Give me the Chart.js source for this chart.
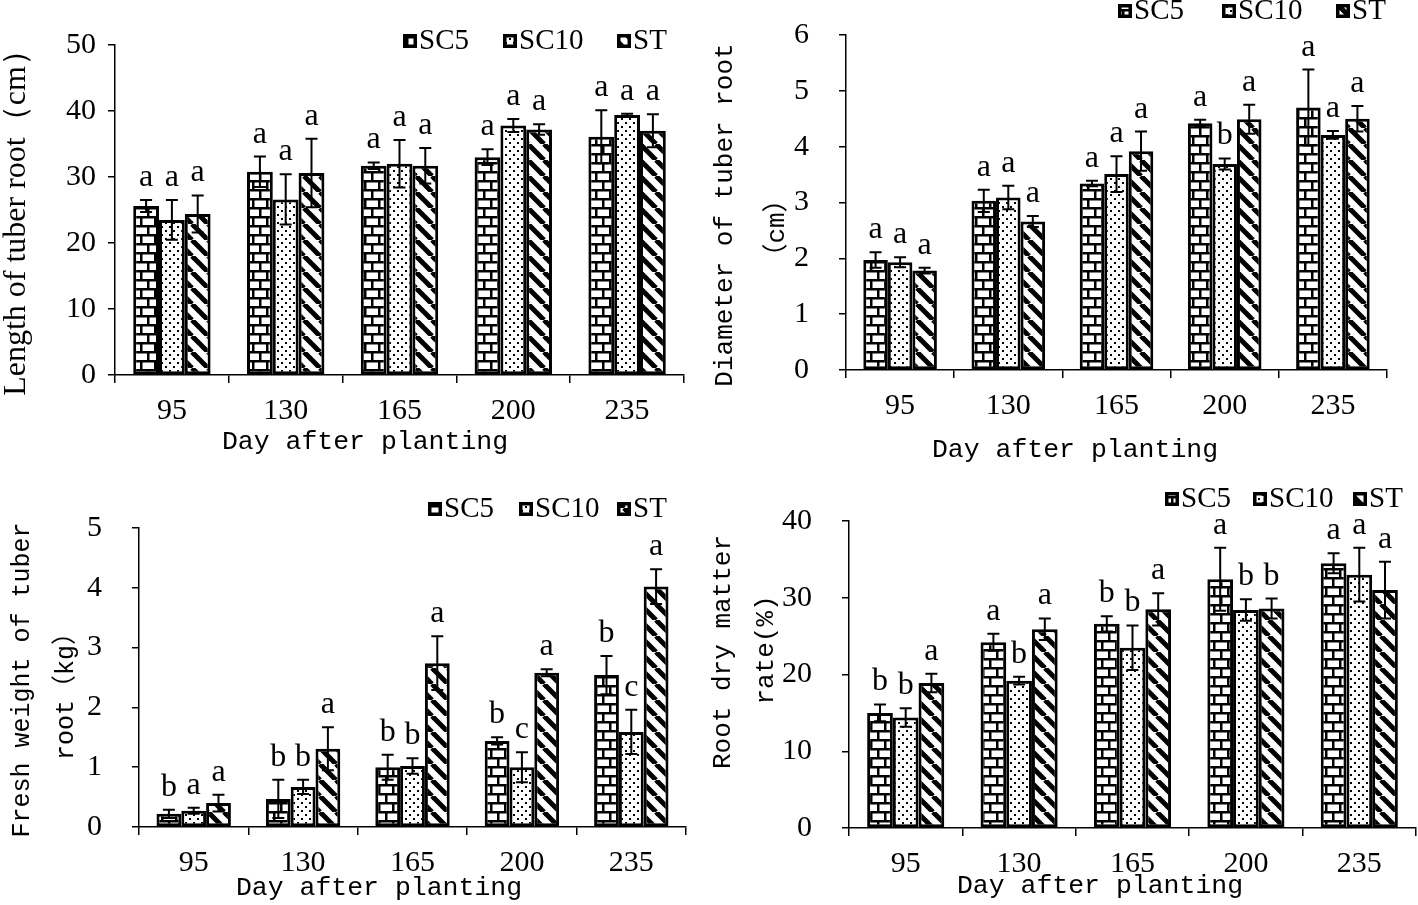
<!DOCTYPE html>
<html><head><meta charset="utf-8">
<script src="https://cdn.jsdelivr.net/npm/chart.js@4.4.1/dist/chart.umd.min.js"></script>
<style>
html,body{margin:0;padding:0;background:#fff;}
body{width:1418px;height:905px;position:relative;overflow:hidden;}
canvas{position:absolute;}
</style></head><body>
<canvas id="c1" width="709" height="460" style="left:0;top:0"></canvas>
<canvas id="c2" width="709" height="478" style="left:709px;top:0"></canvas>
<canvas id="c3" width="709" height="445" style="left:0;top:460px"></canvas>
<canvas id="c4" width="709" height="445" style="left:709px;top:460px"></canvas>
<script>
// ---------------- DATA ----------------
const categories = ['95', '130', '165', '200', '235'];
const seriesNames = ['SC5', 'SC10', 'ST'];
const xTitle = 'Day after planting';

// Length of tuber root (cm)
const lengthSC5 = [25.6, 30.8, 31.7, 33.0, 36.1];
const lengthSC10 = [23.5, 26.6, 32.0, 37.8, 39.4];
const lengthST = [24.4, 30.6, 31.7, 37.2, 37.0];
const lengthSC5Err = [0.9, 2.3, 0.5, 1.2, 4.0];
const lengthSC10Err = [3.0, 3.8, 3.6, 1.0, 0.2];
const lengthSTErr = [2.8, 5.2, 2.7, 0.8, 2.5];
const lengthSC5Sig = ['a', 'a', 'a', 'a', 'a'];
const lengthSC10Sig = ['a', 'a', 'a', 'a', 'a'];
const lengthSTSig = ['a', 'a', 'a', 'a', 'a'];
const lengthTicks = [0, 10, 20, 30, 40, 50];

// Diameter of tuber root (cm)
const diamSC5 = [1.97, 3.03, 3.34, 4.42, 4.70];
const diamSC10 = [1.93, 3.09, 3.51, 3.69, 4.21];
const diamST = [1.78, 2.66, 3.92, 4.49, 4.50];
const diamSC5Err = [0.14, 0.20, 0.05, 0.06, 0.68];
const diamSC10Err = [0.09, 0.21, 0.32, 0.10, 0.07];
const diamSTErr = [0.05, 0.10, 0.35, 0.26, 0.23];
const diamSC5Sig = ['a', 'a', 'a', 'a', 'a'];
const diamSC10Sig = ['a', 'a', 'a', 'b', 'a'];
const diamSTSig = ['a', 'a', 'a', 'a', 'a'];
const diamTicks = [0, 1, 2, 3, 4, 5, 6];

// Fresh weight of tuber root (kg)
const freshSC5 = [0.22, 0.47, 1.00, 1.44, 2.54];
const freshSC10 = [0.27, 0.67, 1.02, 1.00, 1.59];
const freshST = [0.40, 1.31, 2.74, 2.58, 4.02];
const freshSC5Err = [0.07, 0.32, 0.21, 0.06, 0.32];
const freshSC10Err = [0.05, 0.12, 0.13, 0.25, 0.37];
const freshSTErr = [0.14, 0.36, 0.45, 0.06, 0.29];
const freshSC5Sig = ['b', 'b', 'b', 'b', 'b'];
const freshSC10Sig = ['a', 'b', 'b', 'c', 'c'];
const freshSTSig = ['a', 'a', 'a', 'a', 'a'];
const freshTicks = [0, 1, 2, 3, 4, 5];

// Root dry matter rate (%)
const drySC5 = [15.0, 24.2, 26.6, 32.4, 34.5];
const drySC10 = [14.4, 19.2, 23.5, 28.4, 33.0];
const dryST = [18.9, 25.9, 28.5, 28.6, 31.0];
const drySC5Err = [1.1, 1.1, 1.0, 4.1, 1.3];
const drySC10Err = [1.2, 0.5, 2.9, 1.4, 3.5];
const drySTErr = [1.2, 1.4, 2.1, 1.3, 3.7];
const drySC5Sig = ['b', 'a', 'b', 'a', 'a'];
const drySC10Sig = ['b', 'b', 'b', 'b', 'a'];
const drySTSig = ['a', 'a', 'a', 'b', 'a'];
const dryTicks = [0, 10, 20, 30, 40];

// ---------------- PATTERNS ----------------
function tile(w, h, draw) {
  const c = document.createElement('canvas'); c.width = w; c.height = h;
  const g = c.getContext('2d');
  g.fillStyle = '#fff'; g.fillRect(0, 0, w, h);
  g.fillStyle = '#000'; g.strokeStyle = '#000';
  draw(g);
  return g.createPattern(c, 'repeat');
}
const brick = tile(14, 18, g => {
  g.fillRect(0, 0, 14, 2.5); g.fillRect(0, 9, 14, 2.5);
  g.fillRect(0, 0, 2.5, 9); g.fillRect(7, 9, 2.5, 9);
});
const dots = tile(8, 8, g => {
  g.fillRect(1, 2, 2, 2); g.fillRect(5, 6, 2, 2);
});
const stripes = tile(16, 16, g => {
  g.lineWidth = 5;
  for (const k of [-16, 0, 16]) { g.beginPath(); g.moveTo(k, 0); g.lineTo(k + 16, 16); g.stroke(); }
});
const patterns = [brick, dots, stripes];

const SERIF = '"Liberation Serif", "Times New Roman", serif';
const MONO = '"Liberation Mono", "Noto Sans CJK SC", monospace';

// ---------------- PLUGINS ----------------
function errPlugin() {
  return {
    id: 'errs',
    afterDatasetsDraw(chart) {
      const ctx = chart.ctx, ys = chart.scales.y;
      chart.data.datasets.forEach((ds, i) => {
        chart.getDatasetMeta(i).data.forEach((bar, j) => {
          const v = ds.data[j], e = ds.errors[j];
          const yt = ys.getPixelForValue(v + e), yb = ys.getPixelForValue(v - e);
          ctx.save();
          ctx.strokeStyle = '#000'; ctx.lineWidth = 2;
          ctx.beginPath();
          ctx.moveTo(bar.x, yt); ctx.lineTo(bar.x, yb);
          ctx.moveTo(bar.x - 6, yt); ctx.lineTo(bar.x + 6, yt);
          ctx.moveTo(bar.x - 6, yb); ctx.lineTo(bar.x + 6, yb);
          ctx.stroke();
          ctx.font = '32px ' + SERIF; ctx.fillStyle = '#000';
          ctx.textAlign = 'center'; ctx.textBaseline = 'alphabetic';
          ctx.fillText(ds.sig[j], bar.x, yt - 14);
          ctx.restore();
        });
      });
    }
  };
}
function legendPlugin(xs, y) {
  return {
    id: 'boxLegend',
    afterDraw(chart) {
      const ctx = chart.ctx;
      chart.data.datasets.forEach((ds, i) => {
        const x = xs[i];
        ctx.save();
        ctx.fillStyle = ds.backgroundColor; ctx.fillRect(x, y - 6, 14, 14);
        ctx.strokeStyle = '#000'; ctx.lineWidth = 3.5; ctx.strokeRect(x + 1.75, y - 4.25, 10.5, 10.5);
        ctx.font = '29px ' + SERIF; ctx.fillStyle = '#000';
        ctx.textAlign = 'left'; ctx.textBaseline = 'middle';
        ctx.fillText(ds.label, x + 16, y + 1);
        ctx.restore();
      });
    }
  };
}
function titlePlugin(items) {
  return {
    id: 'titles',
    afterDraw(chart) {
      const ctx = chart.ctx;
      items.forEach(t => {
        ctx.save();
        ctx.translate(t.x, t.y);
        if (t.rot) ctx.rotate(-Math.PI / 2);
        ctx.font = t.font; ctx.fillStyle = '#000';
        ctx.textAlign = 'center'; ctx.textBaseline = 'middle';
        ctx.fillText(t.text, 0, 0);
        ctx.restore();
      });
    }
  };
}

function makePanel(id, cfg) {
  const canvas = document.getElementById(id);
  const W = canvas.width, H = canvas.height;
  const datasets = seriesNames.map((n, i) => ({
    label: n, data: cfg.values[i], errors: cfg.errors[i], sig: cfg.sig[i],
    backgroundColor: patterns[i], borderColor: '#000', borderWidth: 3, borderSkipped: false
  }));
  new Chart(canvas, {
    type: 'bar',
    data: { labels: categories, datasets },
    options: {
      responsive: false, animation: false, devicePixelRatio: 1,
      layout: { padding: { left: 0, right: W - cfg.area.right, top: cfg.area.top, bottom: 0 } },
      datasets: { bar: { categoryPercentage: 0.68, barPercentage: 1 } },
      plugins: { legend: { display: false }, tooltip: { enabled: false } },
      scales: {
        x: {
          grid: { drawOnChartArea: false, drawTicks: true, tickLength: 8, color: '#000', lineWidth: 1.5, offset: true },
          border: { display: true, color: '#000', width: 1.5 },
          ticks: { color: '#000', font: { family: SERIF, size: 30 }, padding: 10, maxRotation: 0 },
          afterFit(s) { s.height = H - cfg.area.bottom; s.paddingLeft = 0; s.paddingRight = 0; }
        },
        y: {
          min: cfg.ticks[0], max: cfg.ticks[cfg.ticks.length - 1],
          afterBuildTicks(s) { s.ticks = cfg.ticks.map(v => ({ value: v })); },
          grid: { drawOnChartArea: false, drawTicks: true, tickLength: 7, color: '#000', lineWidth: 1.5 },
          border: { display: true, color: '#000', width: 1.5 },
          ticks: { color: '#000', font: { family: SERIF, size: 30 }, padding: cfg.tickPad },
          afterFit(s) { s.width = cfg.area.left; s.paddingTop = 0; s.paddingBottom = 0; }
        }
      }
    },
    plugins: [errPlugin(), legendPlugin(cfg.legendX, cfg.legendY), titlePlugin(cfg.titles)]
  });
}

makePanel('c1', {
  values: [lengthSC5, lengthSC10, lengthST],
  errors: [lengthSC5Err, lengthSC10Err, lengthSTErr],
  sig: [lengthSC5Sig, lengthSC10Sig, lengthSTSig],
  ticks: lengthTicks,
  area: { left: 115, right: 684, top: 45, bottom: 375 },
  tickPad: 12,
  legendX: [403, 503, 617], legendY: 40,
  titles: [
    { text: 'Length of tuber root（cm）', x: 17, y: 215, rot: true, font: '32px ' + SERIF },
    { text: xTitle, x: 365, y: 442, font: '26.5px ' + MONO }
  ]
});
makePanel('c2', {
  values: [diamSC5, diamSC10, diamST],
  errors: [diamSC5Err, diamSC10Err, diamSTErr],
  sig: [diamSC5Sig, diamSC10Sig, diamSTSig],
  ticks: diamTicks,
  area: { left: 137, right: 678, top: 35, bottom: 370 },
  tickPad: 30,
  legendX: [409, 513, 627], legendY: 10,
  titles: [
    { text: 'Diameter of tuber root', x: 16, y: 215, rot: true, font: '26px ' + MONO },
    { text: '（cm）', x: 68, y: 228, rot: true, font: '26px ' + MONO },
    { text: xTitle, x: 366, y: 450, font: '26.5px ' + MONO }
  ]
});
makePanel('c3', {
  values: [freshSC5, freshSC10, freshST],
  errors: [freshSC5Err, freshSC10Err, freshSTErr],
  sig: [freshSC5Sig, freshSC10Sig, freshSTSig],
  ticks: freshTicks,
  area: { left: 139, right: 686, top: 68, bottom: 367 },
  tickPad: 30,
  legendX: [428, 519, 617], legendY: 48,
  titles: [
    { text: 'Fresh weight of tuber', x: 22, y: 220, rot: true, font: '25px ' + MONO },
    { text: 'root（kg）', x: 66, y: 230, rot: true, font: '25px ' + MONO },
    { text: xTitle, x: 379, y: 428, font: '26.5px ' + MONO }
  ]
});
makePanel('c4', {
  values: [drySC5, drySC10, dryST],
  errors: [drySC5Err, drySC10Err, drySTErr],
  sig: [drySC5Sig, drySC10Sig, drySTSig],
  ticks: dryTicks,
  area: { left: 140, right: 707, top: 61, bottom: 368 },
  tickPad: 30,
  legendX: [456, 544, 644], legendY: 38,
  titles: [
    { text: 'Root dry matter', x: 14, y: 192, rot: true, font: '26px ' + MONO },
    { text: 'rate(%)', x: 57, y: 190, rot: true, font: '26px ' + MONO },
    { text: xTitle, x: 391, y: 426, font: '26.5px ' + MONO }
  ]
});
</script>
</body></html>
